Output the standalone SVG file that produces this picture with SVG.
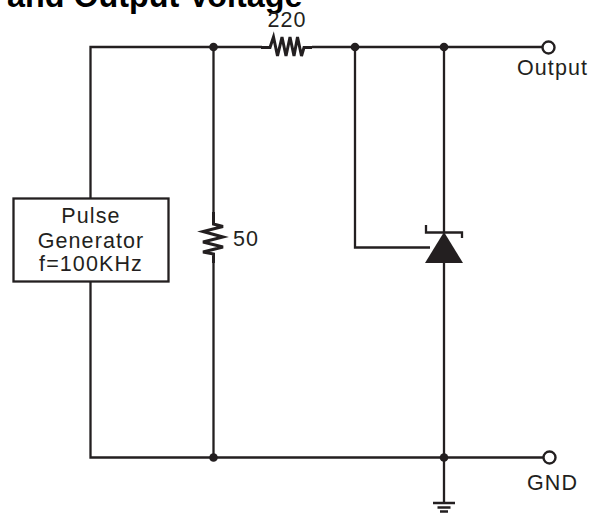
<svg xmlns="http://www.w3.org/2000/svg" width="598" height="514" viewBox="0 0 598 514">
<style>
.w{fill:none;stroke:#231f20;stroke-width:2.300}
.z{fill:none;stroke:#231f20;stroke-width:3}
.t{font-family:"Liberation Sans",Arial,sans-serif;font-size:21.500px;fill:#231f20;letter-spacing:1.100px}
.d{fill:#231f20}
.c{fill:#fff;stroke:#231f20;stroke-width:2.400}
</style>
<rect width="598" height="514" fill="#fff"/>
<text id="title" x="7" y="7" font-family="'Liberation Sans',Arial,sans-serif" font-weight="bold" font-size="32.300px" fill="#000">and Output Voltage</text>
<g id="connectors">
<path class="w" d="M90.500 198V47H262M312 47H542"/>
<path class="w" d="M90.500 282V457.500H543"/>
<path class="w" d="M213.500 47V212M213.500 262V457.500"/>
<path class="w" d="M355 47V247.500H430"/>
<path class="w" d="M444 47V232M444 262V503"/>
</g>
<g id="r220">
<path class="z" d="M261 47.500H270L273.500 37L277.500 56L282 37L286 56L290 37L294 56L297.500 37L301.500 56L304 47.500H312"/>
<text class="t" x="287" y="27" text-anchor="middle">220</text>
</g>
<g id="r50">
<path class="z" d="M213.500 212V224L223 226.500L203 231.500L223 237L203 242L223 247L203 252L213.500 254V263"/>
<text class="t" x="233" y="245.500">50</text>
</g>
<g id="pulse-generator">
<rect x="13.500" y="198.500" width="155" height="83" fill="#fff" stroke="#231f20" stroke-width="2.300"/>
<text class="t" x="91" y="223" text-anchor="middle">Pulse</text>
<text class="t" x="91" y="248" text-anchor="middle">Generator</text>
<text class="t" x="91" y="271" text-anchor="middle">f=100KHz</text>
</g>
<g id="zener">
<path class="d" d="M444 232L463 263H425Z"/>
<path class="w" d="M426 225V232.500H462V238"/>
</g>
<g id="junctions">
<circle class="d" cx="213.500" cy="47" r="4.300"/>
<circle class="d" cx="355" cy="47" r="4.300"/>
<circle class="d" cx="444" cy="47" r="4.300"/>
<circle class="d" cx="213.500" cy="457.500" r="4.300"/>
<circle class="d" cx="444" cy="457.500" r="4.300"/>
</g>
<g id="output">
<circle class="c" cx="548.500" cy="47.500" r="6"/>
<text class="t" x="552.500" y="75" text-anchor="middle">Output</text>
</g>
<g id="gnd">
<circle class="c" cx="549.500" cy="457.500" r="6"/>
<text class="t" x="552.500" y="490" text-anchor="middle">GND</text>
</g>
<g id="ground">
<path class="w" d="M433 503H455M437.500 507.500H450.500M440 511.500H448"/>
</g>
</svg>
